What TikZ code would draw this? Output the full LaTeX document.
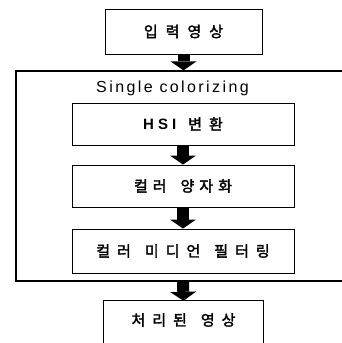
\documentclass[tikz,border=0pt]{standalone}
\usepackage{fontspec}
\setmainfont{Liberation Sans}
\newfontfamily\kr[FakeBold=2.2]{Noto Sans CJK KR}
\usetikzlibrary{arrows.meta}
\newcommand\kg[1]{\hspace{#1pt}}
\begin{document}
\begin{tikzpicture}[x=1pt,y=-1pt,
  box/.style={draw=black, line width=0.9pt, inner sep=0pt},
  flow/.style={line width=12pt, -{Triangle[width=26pt,length=9pt,line width=0pt]}},
  kt/.style={font=\kr\fontsize{15}{17}\selectfont}]
\clip (0,0) rectangle (342,343);
\node[box, kt, minimum width=157, minimum height=45] (top) at (183.5,31.5) {입\kg{8}력\kg{8}영\kg{8}상};
\node[box, line width=1.2pt, minimum width=345, minimum height=210] (outer) at (188.5,176) {};
\node[font=\fontsize{16}{18}\selectfont\addfontfeature{LetterSpace=15}] (title) at (172.5,88) {Single colorizing};
\node[box, kt, minimum width=222, minimum height=42] (hsi) at (183,124) {{\rmfamily\bfseries H\kg{4}S\kg{4}I}\kg{12}변\kg{7}환};
\node[box, kt, minimum width=222, minimum height=42] (quant) at (183,186) {컬\kg{5}러\kg{14}양\kg{5}자\kg{5}화};
\node[box, kt, minimum width=222, minimum height=44] (filter) at (183,251) {컬\kg{7}러\kg{14}미\kg{7}디\kg{7}언\kg{14}필\kg{7}터\kg{7}링};
\node[kt, minimum width=159, minimum height=38] (bottom) at (183.5,320) {처\kg{7}리\kg{7}된\kg{14}영\kg{7}상};
\draw[box] ([yshift=-30pt]bottom.south west) -- (bottom.north west) -- (bottom.north east) -- ([yshift=-30pt]bottom.south east);
\draw[flow] (top.south) -- (top.south |- outer.north);
\draw[flow] (hsi.south) -- (quant.north);
\draw[flow] (quant.south) -- (filter.north);
\draw[flow] (filter.south |- outer.south) -- (bottom.north);
\end{tikzpicture}
\end{document}
